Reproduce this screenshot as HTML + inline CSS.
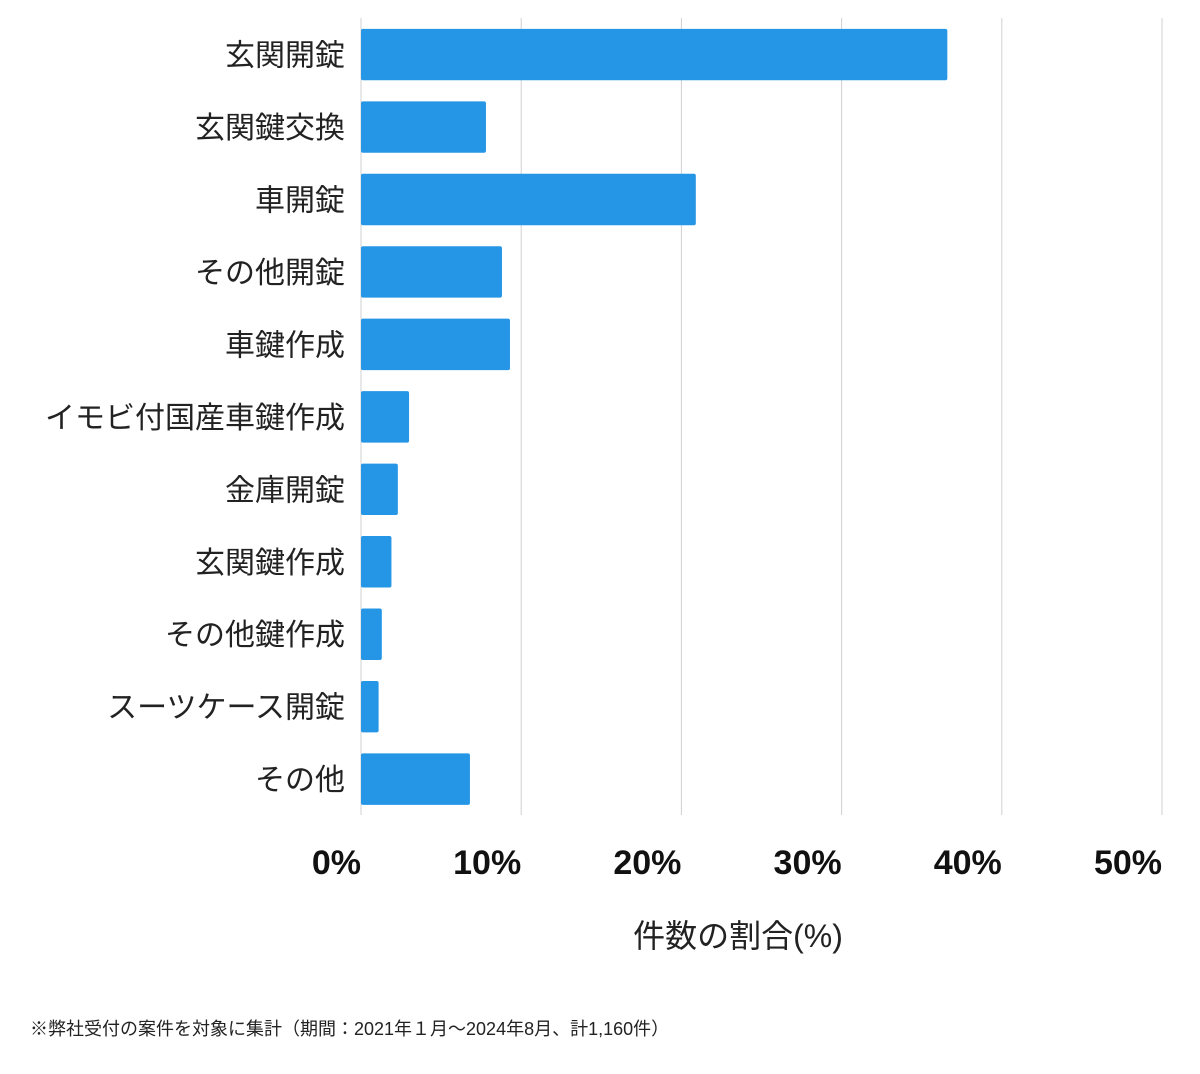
<!DOCTYPE html>
<html><head><meta charset="utf-8"><style>
body{margin:0;background:#fff;width:1200px;height:1069px;overflow:hidden}
svg text{font-family:"Liberation Sans","Noto Sans CJK JP",sans-serif}
</style></head><body>
<svg id="chart" width="1200" height="1069" xmlns="http://www.w3.org/2000/svg">
<g id="grid"></g>
<g id="bars"></g>
<g id="ylabels"></g>
<g id="xlabels"></g>
<text x="738" y="947" text-anchor="middle" font-size="32" fill="#222">件数の割合(%)</text>
<text x="30" y="1035" font-size="18" fill="#222">※弊社受付の案件を対象に集計（期間：2021年１月〜2024年8月、計1,160件）</text>
</svg>
<script>
const categories=["玄関開錠","玄関鍵交換","車開錠","その他開錠","車鍵作成","イモビ付国産車鍵作成","金庫開錠","玄関鍵作成","その他鍵作成","スーツケース開錠","その他"];
const values=[36.6,7.8,20.9,8.8,9.3,3.0,2.3,1.9,1.3,1.1,6.8];
const ticks=[0,10,20,30,40,50];
const tickLabels=["0%","10%","20%","30%","40%","50%"];
const NS="http://www.w3.org/2000/svg";
const x0=361,x1=1162,plotTop=18,plotBottom=815,maxV=50;
const xs=v=>x0+(v/maxV)*(x1-x0);
const band=(plotBottom-plotTop)/categories.length;
const ys=i=>plotTop+band*i;
function mk(t,a){const e=document.createElementNS(NS,t);for(const k in a)e.setAttribute(k,a[k]);return e;}
const grid=document.getElementById('grid'),bars=document.getElementById('bars'),yl=document.getElementById('ylabels'),xl=document.getElementById('xlabels');
ticks.forEach((t,i)=>{
  const l=mk('line',{x1:xs(t),x2:xs(t),y1:plotTop,y2:plotBottom,stroke:'#d0d0d0','stroke-width':1});
  
  
  grid.appendChild(l);
  const tx=mk('text',{x:xs(t),y:874,'text-anchor':'end','font-size':34,'font-weight':'bold',fill:'#111'});
  tx.textContent=tickLabels[i];
  
  
  xl.appendChild(tx);
});
categories.forEach((c,i)=>{
  const y=ys(i)+band*0.15,h=band*0.71;
  const r=mk('rect',{x:x0,y:y,width:xs(values[i])-x0,height:h,rx:2,fill:'#2596e6'});
  
  
  bars.appendChild(r);
  const t=mk('text',{x:345,y:y+h/2+11,'text-anchor':'end','font-size':30,fill:'#222'});
  t.textContent=c;
  
  
  yl.appendChild(t);
});
</script>
</body></html>
